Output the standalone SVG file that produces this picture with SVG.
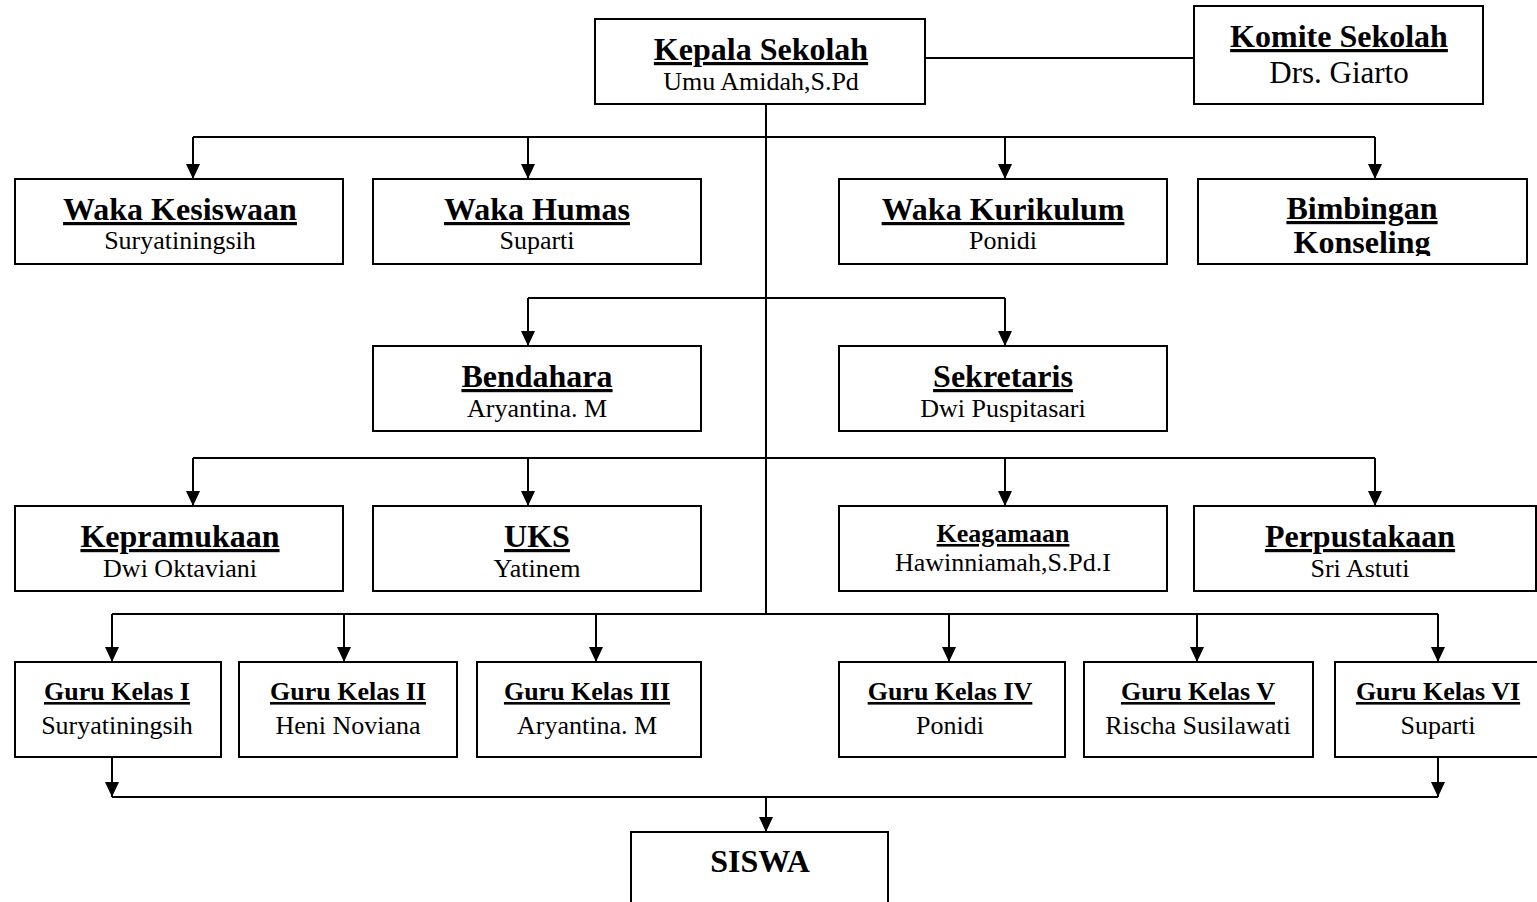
<svg xmlns="http://www.w3.org/2000/svg" width="1537" height="902" viewBox="0 0 1537 902">
<style>
.box{fill:#fff;stroke:#000;stroke-width:2}
.conn{stroke:#000;stroke-width:2;fill:none}
.arr{stroke:#000;stroke-width:2;fill:none;marker-end:url(#ah)}
text{font-family:"Liberation Serif","Times New Roman",serif;text-anchor:middle;fill:#000}
.h1{font-size:32px;font-weight:bold;text-decoration:underline;text-decoration-thickness:3px}
.h2{font-size:26px;font-weight:bold;text-decoration:underline;text-decoration-thickness:2.5px}
.hb{font-size:32px;font-weight:bold}
.s{font-size:26px}
.sl{font-size:31px}
</style>
<defs>
<marker id="ah" markerUnits="userSpaceOnUse" markerWidth="15" markerHeight="14" refX="15" refY="7" orient="auto" viewBox="0 0 15 14">
<path d="M0,0 L15,7 L0,14 Z" fill="#000"/>
</marker>
<clipPath id="clipR2"><rect x="0" y="179" width="1537" height="77"/></clipPath>
<clipPath id="clipR3"><rect x="0" y="346" width="1537" height="77"/></clipPath>
</defs>

<g id="connectors">
<line class="conn" x1="925" y1="58" x2="1194" y2="58"/>
<line class="conn" x1="766" y1="104" x2="766" y2="614"/>
<line class="conn" x1="193" y1="137" x2="1375" y2="137"/>
<line class="arr" x1="193" y1="137" x2="193" y2="179"/>
<line class="arr" x1="528" y1="137" x2="528" y2="179"/>
<line class="arr" x1="1005" y1="137" x2="1005" y2="179"/>
<line class="arr" x1="1375" y1="137" x2="1375" y2="179"/>
<line class="conn" x1="528" y1="298" x2="1005" y2="298"/>
<line class="arr" x1="528" y1="298" x2="528" y2="346"/>
<line class="arr" x1="1005" y1="298" x2="1005" y2="346"/>
<line class="conn" x1="193" y1="458" x2="1375" y2="458"/>
<line class="arr" x1="193" y1="458" x2="193" y2="506"/>
<line class="arr" x1="528" y1="458" x2="528" y2="506"/>
<line class="arr" x1="1005" y1="458" x2="1005" y2="506"/>
<line class="arr" x1="1375" y1="458" x2="1375" y2="506"/>
<line class="conn" x1="112" y1="614" x2="1438" y2="614"/>
<line class="arr" x1="112" y1="614" x2="112" y2="662"/>
<line class="arr" x1="344" y1="614" x2="344" y2="662"/>
<line class="arr" x1="596" y1="614" x2="596" y2="662"/>
<line class="arr" x1="949" y1="614" x2="949" y2="662"/>
<line class="arr" x1="1197" y1="614" x2="1197" y2="662"/>
<line class="arr" x1="1438" y1="614" x2="1438" y2="662"/>
<line class="arr" x1="112" y1="757" x2="112" y2="797"/>
<line class="arr" x1="1438" y1="757" x2="1438" y2="797"/>
<line class="conn" x1="112" y1="797" x2="1438" y2="797"/>
<line class="arr" x1="766" y1="797" x2="766" y2="832"/>
</g>

<g id="kepala">
<rect class="box" x="595" y="19" width="330" height="85"/>
<text class="h1" x="761" y="60">Kepala Sekolah</text>
<text class="s" x="761" y="90">Umu Amidah,S.Pd</text>
</g>
<g id="komite">
<rect class="box" x="1194" y="6" width="289" height="98"/>
<text class="h1" x="1339" y="47">Komite Sekolah</text>
<text class="sl" x="1339" y="83">Drs. Giarto</text>
</g>

<g id="waka-kesiswaan">
<rect class="box" x="15" y="179" width="328" height="85"/>
<g clip-path="url(#clipR2)">
<text class="h1" x="180" y="220">Waka Kesiswaan</text>
<text class="s" x="180" y="249">Suryatiningsih</text>
</g>
</g>
<g id="waka-humas">
<rect class="box" x="373" y="179" width="328" height="85"/>
<g clip-path="url(#clipR2)">
<text class="h1" x="537" y="220">Waka Humas</text>
<text class="s" x="537" y="249">Suparti</text>
</g>
</g>
<g id="waka-kurikulum">
<rect class="box" x="839" y="179" width="328" height="85"/>
<g clip-path="url(#clipR2)">
<text class="h1" x="1003" y="220">Waka Kurikulum</text>
<text class="s" x="1003" y="249">Ponidi</text>
</g>
</g>
<g id="bimbingan-konseling">
<rect class="box" x="1198" y="179" width="329" height="85"/>
<g clip-path="url(#clipR2)">
<text class="h1" x="1362" y="219">Bimbingan</text>
<text class="hb" x="1362" y="253">Konseling</text>
</g>
</g>

<g id="bendahara">
<rect class="box" x="373" y="346" width="328" height="85"/>
<g clip-path="url(#clipR3)">
<text class="h1" x="537" y="387">Bendahara</text>
<text class="s" x="537" y="417">Aryantina. M</text>
</g>
</g>
<g id="sekretaris">
<rect class="box" x="839" y="346" width="328" height="85"/>
<g clip-path="url(#clipR3)">
<text class="h1" x="1003" y="387">Sekretaris</text>
<text class="s" x="1003" y="417">Dwi Puspitasari</text>
</g>
</g>

<g id="kepramukaan">
<rect class="box" x="15" y="506" width="328" height="85"/>
<text class="h1" x="180" y="547">Kepramukaan</text>
<text class="s" x="180" y="577">Dwi Oktaviani</text>
</g>
<g id="uks">
<rect class="box" x="373" y="506" width="328" height="85"/>
<text class="h1" x="537" y="547">UKS</text>
<text class="s" x="537" y="577">Yatinem</text>
</g>
<g id="keagamaan">
<rect class="box" x="839" y="506" width="328" height="85"/>
<text class="h2" x="1003" y="542">Keagamaan</text>
<text class="s" x="1003" y="571">Hawinniamah,S.Pd.I</text>
</g>
<g id="perpustakaan">
<rect class="box" x="1194" y="506" width="342" height="85"/>
<text class="h1" x="1360" y="547">Perpustakaan</text>
<text class="s" x="1360" y="577">Sri Astuti</text>
</g>

<g id="guru-1">
<rect class="box" x="15" y="662" width="206" height="95"/>
<text class="h2" x="117" y="700">Guru Kelas I</text>
<text class="s" x="117" y="734">Suryatiningsih</text>
</g>
<g id="guru-2">
<rect class="box" x="239" y="662" width="218" height="95"/>
<text class="h2" x="348" y="700">Guru Kelas II</text>
<text class="s" x="348" y="734">Heni Noviana</text>
</g>
<g id="guru-3">
<rect class="box" x="477" y="662" width="224" height="95"/>
<text class="h2" x="587" y="700">Guru Kelas III</text>
<text class="s" x="587" y="734">Aryantina. M</text>
</g>
<g id="guru-4">
<rect class="box" x="839" y="662" width="226" height="95"/>
<text class="h2" x="950" y="700">Guru Kelas IV</text>
<text class="s" x="950" y="734">Ponidi</text>
</g>
<g id="guru-5">
<rect class="box" x="1084" y="662" width="229" height="95"/>
<text class="h2" x="1198" y="700">Guru Kelas V</text>
<text class="s" x="1198" y="734">Rischa Susilawati</text>
</g>
<g id="guru-6">
<rect class="box" x="1335" y="662" width="206" height="95"/>
<text class="h2" x="1438" y="700">Guru Kelas VI</text>
<text class="s" x="1438" y="734">Suparti</text>
</g>

<g id="siswa">
<rect class="box" x="631" y="832" width="257" height="80"/>
<text class="hb" x="760" y="872">SISWA</text>
</g>
</svg>
